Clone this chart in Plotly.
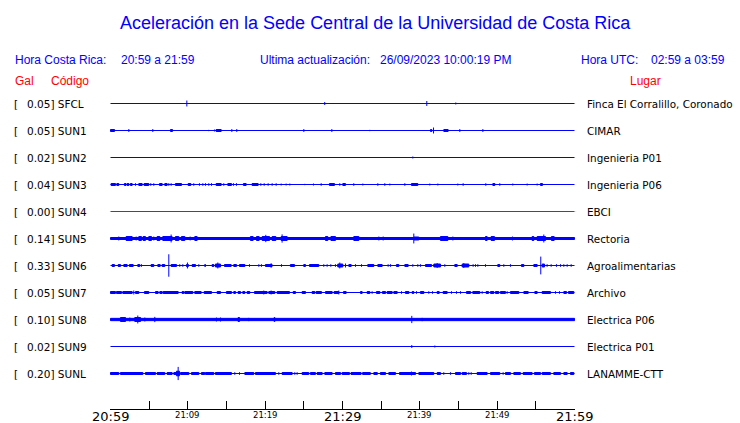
import plotly.graph_objects as go

# ------------------------------------------------------------------ data
TITLE = "Aceleración en la Sede Central de la Universidad de Costa Rica"
HORA_CR = "20:59 a 21:59"
ULTIMA = "26/09/2023 10:00:19 PM"
HORA_UTC = "02:59 a 03:59"

STATIONS = ["SFCL", "SUN1", "SUN2", "SUN3", "SUN4", "SUN5",
            "SUN6", "SUN7", "SUN8", "SUN9", "SUNL"]
GAL_MAX = [0.05, 0.05, 0.02, 0.04, 0.00, 0.14, 0.33, 0.05, 0.10, 0.02, 0.20]
LUGAR = ["Finca El Corralillo, Coronado", "CIMAR", "Ingenieria P01",
         "Ingenieria P06", "EBCI", "Rectoria", "Agroalimentarias", "Archivo",
         "Electrica P06", "Electrica P01", "LANAMME-CTT"]

# minutes after 20:59 (local time)
WINDOW = [0, 60]
TICK_MINUTES = [0, 5, 10, 15, 20, 25, 30, 35, 40, 45, 50, 55, 60]
TICK_LABELS = ["20:59", "", "21:09", "", "21:19", "", "21:29", "",
               "21:39", "", "21:49", "", "21:59"]
MAJOR_LABELS = ["20:59", "21:29", "21:59"]

# waveform envelope read from the records: (start min, end min, half amplitude Gal)
EV_SFCL = [(9.87, 9.87, 0.09), (27.7, 27.7, 0.045), (40.9, 40.9, 0.075),
           (44.65, 44.65, 0.03)]
EV_SUN1 = [(0.0, 0.52, 0.03), (2.37, 2.37, 0.045), (5.47, 5.47, 0.045),
           (7.76, 8.02, 0.03), (12.7, 12.7, 0.02), (13.44, 13.44, 0.03),
           (13.66, 14.31, 0.03), (15.69, 15.69, 0.045), (16.33, 16.33, 0.045),
           (25.0, 25.0, 0.045), (28.62, 28.62, 0.045), (33.53, 33.53, 0.02),
           (41.38, 41.55, 0.03), (41.77, 41.77, 0.09), (43.1, 43.66, 0.03),
           (45.17, 45.17, 0.045), (48.15, 48.15, 0.045)]
EV_SUN2 = [(39.09, 39.09, 0.03)]
EV_SUN3 = [(0.08, 0.64, 0.03), (0.82, 1.07, 0.03), (1.8, 2.0, 0.03), (2.15, 2.37, 0.03),
           (2.58, 2.8, 0.03), (3.23, 3.23, 0.04), (3.66, 4.09, 0.03), (4.35, 4.95, 0.03),
           (5.21, 5.21, 0.04), (5.6, 5.6, 0.04), (6.33, 6.68, 0.03), (7.02, 7.32, 0.03),
           (7.54, 7.54, 0.04), (7.84, 7.84, 0.04), (8.4, 9.18, 0.03), (10.04, 10.38, 0.03),
           (10.77, 10.77, 0.04), (11.5, 11.5, 0.04), (11.94, 11.94, 0.04), (12.28, 12.28, 0.04),
           (12.71, 12.71, 0.04), (13.06, 13.06, 0.04), (13.66, 14.31, 0.03), (14.65, 14.65, 0.04),
           (15.17, 15.64, 0.03), (15.9, 15.9, 0.04), (16.29, 16.29, 0.04), (17.19, 17.54, 0.03),
           (18.31, 19.09, 0.03), (19.44, 19.44, 0.04), (19.87, 19.87, 0.04), (20.38, 20.38, 0.04),
           (20.9, 20.9, 0.04), (21.42, 21.42, 0.04), (22.07, 22.07, 0.03), (22.71, 22.71, 0.03),
           (23.19, 23.19, 0.03), (25.12, 25.12, 0.02), (26.25, 26.25, 0.03), (27.24, 27.24, 0.04),
           (28.31, 28.96, 0.03), (29.65, 29.65, 0.04), (30.04, 30.38, 0.03), (31.46, 31.46, 0.04),
           (32.63, 32.63, 0.03), (34.57, 34.57, 0.04), (35.47, 35.47, 0.04), (36.12, 36.12, 0.03),
           (38.06, 38.06, 0.04), (38.92, 39.74, 0.03), (41.29, 41.29, 0.03), (42.33, 42.33, 0.03),
           (44.91, 44.91, 0.03), (45.6, 45.6, 0.04), (48.53, 48.53, 0.04), (49.44, 49.7, 0.03),
           (50.34, 50.34, 0.04), (52.02, 52.02, 0.03), (53.88, 53.88, 0.03), (55.17, 55.17, 0.03),
           (55.6, 55.86, 0.03)]
EV_SUN4 = []
EV_SUN5 = [(0.0, 60.0, 0.03),
           (1.07, 1.07, 0.06), (2.02, 2.8, 0.06), (3.32, 3.32, 0.06), (3.66, 4.0, 0.06),
           (4.22, 4.52, 0.06), (4.95, 5.3, 0.06), (5.6, 5.6, 0.06), (6.03, 6.38, 0.06),
           (6.76, 7.97, 0.06), (7.84, 7.84, 0.12), (8.4, 8.83, 0.06), (9.18, 9.61, 0.06),
           (10.3, 10.3, 0.06), (10.9, 11.2, 0.06), (11.94, 11.94, 0.045), (18.1, 18.44, 0.06),
           (18.88, 19.22, 0.06), (19.61, 20.56, 0.06), (20.08, 20.08, 0.11), (20.9, 21.38, 0.06),
           (22.07, 22.84, 0.06), (22.19, 22.19, 0.125), (27.8, 28.1, 0.06), (28.5, 29.09, 0.06),
           (31.46, 32.11, 0.06), (32.97, 32.97, 0.045), (34.7, 34.7, 0.06), (35.26, 35.26, 0.06),
           (39.22, 39.22, 0.15), (39.22, 39.87, 0.045), (40.64, 40.64, 0.045), (42.67, 43.62, 0.06),
           (44.27, 44.27, 0.06), (48.49, 48.7, 0.06), (49.22, 49.65, 0.06), (50.21, 50.21, 0.045),
           (51.98, 51.98, 0.06), (54.52, 54.74, 0.06), (55.17, 56.25, 0.06), (56.03, 56.03, 0.12),
           (57.02, 57.37, 0.06)]
EV_SUN6 = [(0.21, 0.51, 0.03), (0.99, 1.29, 0.03), (1.72, 2.15, 0.03), (2.45, 2.93, 0.03),
           (3.53, 3.79, 0.03), (4.0, 4.0, 0.04), (5.25, 5.6, 0.03), (6.12, 6.42, 0.03),
           (6.68, 7.02, 0.03), (7.54, 7.54, 0.34), (7.84, 8.53, 0.03), (8.96, 8.96, 0.04),
           (9.35, 9.35, 0.04), (9.82, 10.08, 0.03), (9.95, 9.95, 0.09), (10.56, 10.99, 0.03),
           (11.42, 11.42, 0.04), (12.19, 12.28, 0.03), (13.14, 13.36, 0.03), (13.57, 14.22, 0.045),
           (13.88, 13.88, 0.09), (14.74, 15.6, 0.03), (15.94, 16.29, 0.03), (16.68, 17.37, 0.03),
           (17.97, 17.97, 0.04), (19.18, 19.18, 0.04), (19.52, 19.52, 0.04), (20.04, 20.9, 0.03),
           (20.77, 20.77, 0.07), (22.11, 22.11, 0.04), (23.27, 23.79, 0.03), (24.99, 25.21, 0.03),
           (25.73, 26.93, 0.03), (27.58, 27.58, 0.04), (28.01, 28.01, 0.04), (28.49, 28.49, 0.04),
           (29.09, 29.09, 0.04), (29.39, 30.04, 0.045), (29.65, 29.65, 0.09), (30.39, 30.39, 0.06),
           (30.82, 31.12, 0.03), (31.68, 31.68, 0.04), (32.46, 32.46, 0.04), (33.27, 34.05, 0.03),
           (34.57, 35.13, 0.03), (35.9, 35.9, 0.04), (36.21, 36.21, 0.04), (36.98, 37.28, 0.03),
           (38.06, 38.49, 0.03), (39.09, 39.09, 0.04), (39.74, 39.74, 0.04), (40.08, 40.08, 0.04),
           (40.73, 41.51, 0.03), (41.81, 42.67, 0.045), (42.24, 42.24, 0.075), (43.23, 43.23, 0.04),
           (44.52, 44.83, 0.03), (45.47, 46.33, 0.045), (45.69, 45.69, 0.075), (46.89, 46.89, 0.04),
           (47.2, 47.2, 0.04), (47.5, 47.5, 0.04), (48.49, 48.49, 0.04), (50.08, 50.34, 0.03),
           (50.86, 50.86, 0.04), (51.72, 51.72, 0.04), (53.14, 53.45, 0.03), (54.74, 55.17, 0.03),
           (55.64, 55.64, 0.27), (55.82, 56.12, 0.045), (56.46, 56.46, 0.04), (56.98, 56.98, 0.04),
           (57.67, 57.67, 0.04), (58.19, 58.19, 0.04), (58.62, 58.62, 0.04), (59.05, 59.05, 0.04),
           (59.57, 59.57, 0.04)]
EV_SUN7 = [(0.0, 0.64, 0.03), (0.77, 1.42, 0.03), (1.59, 2.8, 0.03), (3.01, 3.01, 0.06),
           (3.23, 3.66, 0.03), (4.39, 4.95, 0.03), (5.82, 6.16, 0.03), (6.38, 6.68, 0.03),
           (6.81, 8.75, 0.03), (9.26, 9.48, 0.03), (9.61, 10.64, 0.03), (10.9, 11.72, 0.03),
           (12.11, 13.06, 0.03), (13.79, 14.22, 0.03), (14.99, 15.64, 0.03), (15.94, 16.16, 0.03),
           (16.5, 16.81, 0.03), (17.11, 17.37, 0.03), (17.67, 18.01, 0.03), (18.62, 20.25, 0.03),
           (19.82, 19.82, 0.06), (20.47, 21.25, 0.03), (20.77, 20.77, 0.06), (21.55, 23.14, 0.03),
           (23.62, 23.92, 0.03), (24.78, 25.21, 0.03), (26.07, 26.42, 0.03), (26.59, 27.28, 0.03),
           (27.8, 28.66, 0.03), (28.92, 29.52, 0.03), (29.52, 29.52, 0.06), (30.13, 30.47, 0.03),
           (32.33, 32.54, 0.03), (33.19, 33.53, 0.03), (33.83, 33.83, 0.04), (34.39, 34.83, 0.03),
           (35.17, 35.56, 0.03), (35.77, 36.42, 0.03), (36.64, 37.07, 0.03), (37.63, 37.63, 0.04),
           (38.14, 38.58, 0.03), (39.01, 39.22, 0.03), (39.57, 39.57, 0.04), (40.08, 40.52, 0.03),
           (41.16, 41.16, 0.04), (41.64, 41.64, 0.04), (42.24, 42.5, 0.03), (43.01, 43.53, 0.03),
           (44.09, 44.09, 0.04), (44.74, 44.74, 0.04), (45.26, 45.26, 0.04), (46.03, 46.55, 0.03),
           (46.85, 47.76, 0.03), (48.06, 48.06, 0.04), (48.57, 48.88, 0.03), (49.14, 49.57, 0.03),
           (49.78, 50.21, 0.03), (50.43, 51.07, 0.03), (51.29, 51.29, 0.04), (51.72, 52.8, 0.03),
           (53.45, 54.01, 0.03), (54.87, 55.17, 0.03), (55.82, 56.89, 0.03), (57.54, 57.54, 0.04),
           (58.06, 58.06, 0.04), (58.62, 58.96, 0.03), (59.22, 59.91, 0.03)]
EV_SUN8 = [(0.0, 60.0, 0.035),
           (1.29, 1.94, 0.06), (2.5, 2.5, 0.06), (3.14, 3.88, 0.06), (3.53, 3.53, 0.12),
           (4.44, 4.44, 0.06), (5.73, 5.73, 0.08), (13.7, 13.7, 0.06), (14.22, 14.22, 0.06),
           (16.5, 16.68, 0.06), (17.88, 17.88, 0.05), (21.16, 21.25, 0.06), (38.96, 38.96, 0.11),
           (40.3, 40.3, 0.05)]
EV_SUN9 = [(38.96, 38.96, 0.045), (41.94, 41.94, 0.03)]
EV_SUNL = [(0.0, 1.07, 0.03), (1.29, 4.18, 0.03), (4.52, 5.82, 0.03), (6.03, 7.02, 0.03),
           (7.32, 7.97, 0.03), (8.19, 8.7, 0.03), (8.53, 8.92, 0.07), (8.75, 8.75, 0.2),
           (9.05, 10.13, 0.03), (10.47, 11.42, 0.03), (11.76, 12.19, 0.03), (12.28, 13.36, 0.03),
           (13.57, 15.64, 0.03), (16.07, 16.07, 0.04), (16.68, 16.68, 0.04), (17.37, 18.53, 0.03),
           (18.75, 21.33, 0.03), (21.76, 21.76, 0.04), (22.19, 23.49, 0.03), (23.83, 23.83, 0.04),
           (24.13, 24.13, 0.04), (24.78, 25.64, 0.03), (25.86, 26.5, 0.03), (26.72, 27.37, 0.03),
           (27.71, 28.66, 0.03), (29.09, 29.74, 0.03), (29.95, 30.9, 0.03), (31.1, 32.4, 0.03),
           (32.6, 33.6, 0.03), (34.05, 34.5, 0.03), (34.9, 35.56, 0.03), (35.99, 36.85, 0.03),
           (37.37, 39.44, 0.03), (38.92, 38.92, 0.06), (39.87, 41.81, 0.03), (42.24, 42.67, 0.03),
           (43.1, 43.1, 0.04), (43.96, 43.96, 0.04), (44.61, 45.26, 0.03), (45.47, 46.03, 0.03),
           (46.33, 46.33, 0.04), (46.64, 46.64, 0.04), (47.41, 48.7, 0.03), (49.14, 50.34, 0.03),
           (50.77, 50.77, 0.04), (51.07, 51.72, 0.03), (52.15, 53.01, 0.03), (53.36, 54.52, 0.03),
           (54.82, 55.6, 0.03), (55.82, 56.89, 0.03), (57.32, 58.19, 0.03), (58.62, 59.05, 0.03),
           (59.48, 59.91, 0.03)]

EVENTS = [EV_SFCL, EV_SUN1, EV_SUN2, EV_SUN3, EV_SUN4, EV_SUN5,
          EV_SUN6, EV_SUN7, EV_SUN8, EV_SUN9, EV_SUNL]

# ------------------------------------------------------------------ layout
W, H = 740, 423
PL, PR, PT, PB = 110, 575, 90, 409          # plot area in px
PX_PER_MIN = 464 / 60
X0 = -0.5 / PX_PER_MIN
X1 = X0 + (PR - PL) / PX_PER_MIN
ROW0, ROW = 103.5, 27                       # px centre of first trace, spacing
GAIN = 33.0                                 # px per Gal

BLUE = "#0000ff"
RED = "#ff0000"
HEAD_FONT = "Liberation Sans, Arial, sans-serif"
LAB_FONT = "DejaVu Sans, sans-serif"


def ydat(px):
    return -(px - PT)


def xpap(px):
    return (px - PL) / (PR - PL)


def ypap(px):
    return (PB - px) / (PB - PT)


fig = go.Figure()

for i, (name, ev) in enumerate(zip(STATIONS, EVENTS)):
    yc = ydat(ROW0 + ROW * i)
    xs = [WINDOW[0], WINDOW[1], None]
    ys = [yc, yc, None]
    for s, e, a in ev:
        h = a * GAIN
        if e - s < 0.01:
            xs += [s, s, None]
            ys += [yc - h, yc + h, None]
        else:
            xs += [s, e, e, s, s, None]
            ys += [yc - h, yc - h, yc + h, yc + h, yc - h, None]
    col = RED if GAL_MAX[i] == 0 else BLUE
    fig.add_trace(go.Scatter(x=xs, y=ys, mode="lines", fill="toself",
                             fillcolor=col, line=dict(color=col, width=1),
                             hoverinfo="skip", showlegend=False, name=name))

ann = []


def text(px, py, s, size, color, font, anchor="left"):
    ann.append(dict(xref="paper", yref="paper", x=xpap(px), y=ypap(py),
                    text=s, showarrow=False, xanchor=anchor, yanchor="middle",
                    font=dict(size=size, color=color, family=font),
                    borderpad=0, borderwidth=0))


text(375, 22.9, TITLE, 18, BLUE, HEAD_FONT, "center")
text(15, 60.4, "Hora Costa Rica:", 12, BLUE, HEAD_FONT)
text(120.7, 60.4, HORA_CR, 12, BLUE, HEAD_FONT)
text(260.3, 60.4, "Ultima actualización:", 12, BLUE, HEAD_FONT)
text(380, 60.4, ULTIMA, 12, BLUE, HEAD_FONT)
text(580.7, 60.4, "Hora UTC:", 12, BLUE, HEAD_FONT)
text(650.7, 60.4, HORA_UTC, 12, BLUE, HEAD_FONT)
text(15.3, 80.5, "Gal", 12, RED, HEAD_FONT)
text(50.7, 80.5, "Código", 12, RED, HEAD_FONT)
text(630.3, 80.5, "Lugar", 12, RED, HEAD_FONT)

for i, name in enumerate(STATIONS):
    py = ROW0 + ROW * i
    text(14, py, "[", 10.5, "black", LAB_FONT)
    text(26.5, py, f"{GAL_MAX[i]:.2f}] {name}", 10.5, "black", LAB_FONT)
    text(586.5, py, LUGAR[i], 10.4, "black", LAB_FONT)

for t, lab in zip(TICK_MINUTES, TICK_LABELS):
    if not lab:
        continue
    major = lab in MAJOR_LABELS
    ann.append(dict(xref="x", yref="paper", x=t,
                    y=ypap(416.7 if major else 414.8), text=lab,
                    showarrow=False, xanchor="center", yanchor="middle",
                    font=dict(size=13 if major else 8.5, color="black",
                              family=LAB_FONT),
                    borderpad=0, borderwidth=0))

fig.update_layout(
    width=W, height=H,
    margin=dict(l=PL, r=W - PR, t=PT, b=H - PB, pad=0),
    paper_bgcolor="white", plot_bgcolor="white",
    showlegend=False,
    annotations=ann,
    xaxis=dict(range=[X0, X1], showgrid=False, zeroline=False,
               showline=True, linecolor="black", linewidth=1,
               ticks="inside", ticklen=8, tickwidth=1, tickcolor="black",
               tickvals=TICK_MINUTES, showticklabels=False, fixedrange=True),
    yaxis=dict(range=[ydat(PB), ydat(PT)], visible=False, fixedrange=True),
)

fig.write_html("out.html", config={"displayModeBar": False},
               post_script="document.body.style.margin='0px';"
                           "document.body.style.overflow='hidden';")
